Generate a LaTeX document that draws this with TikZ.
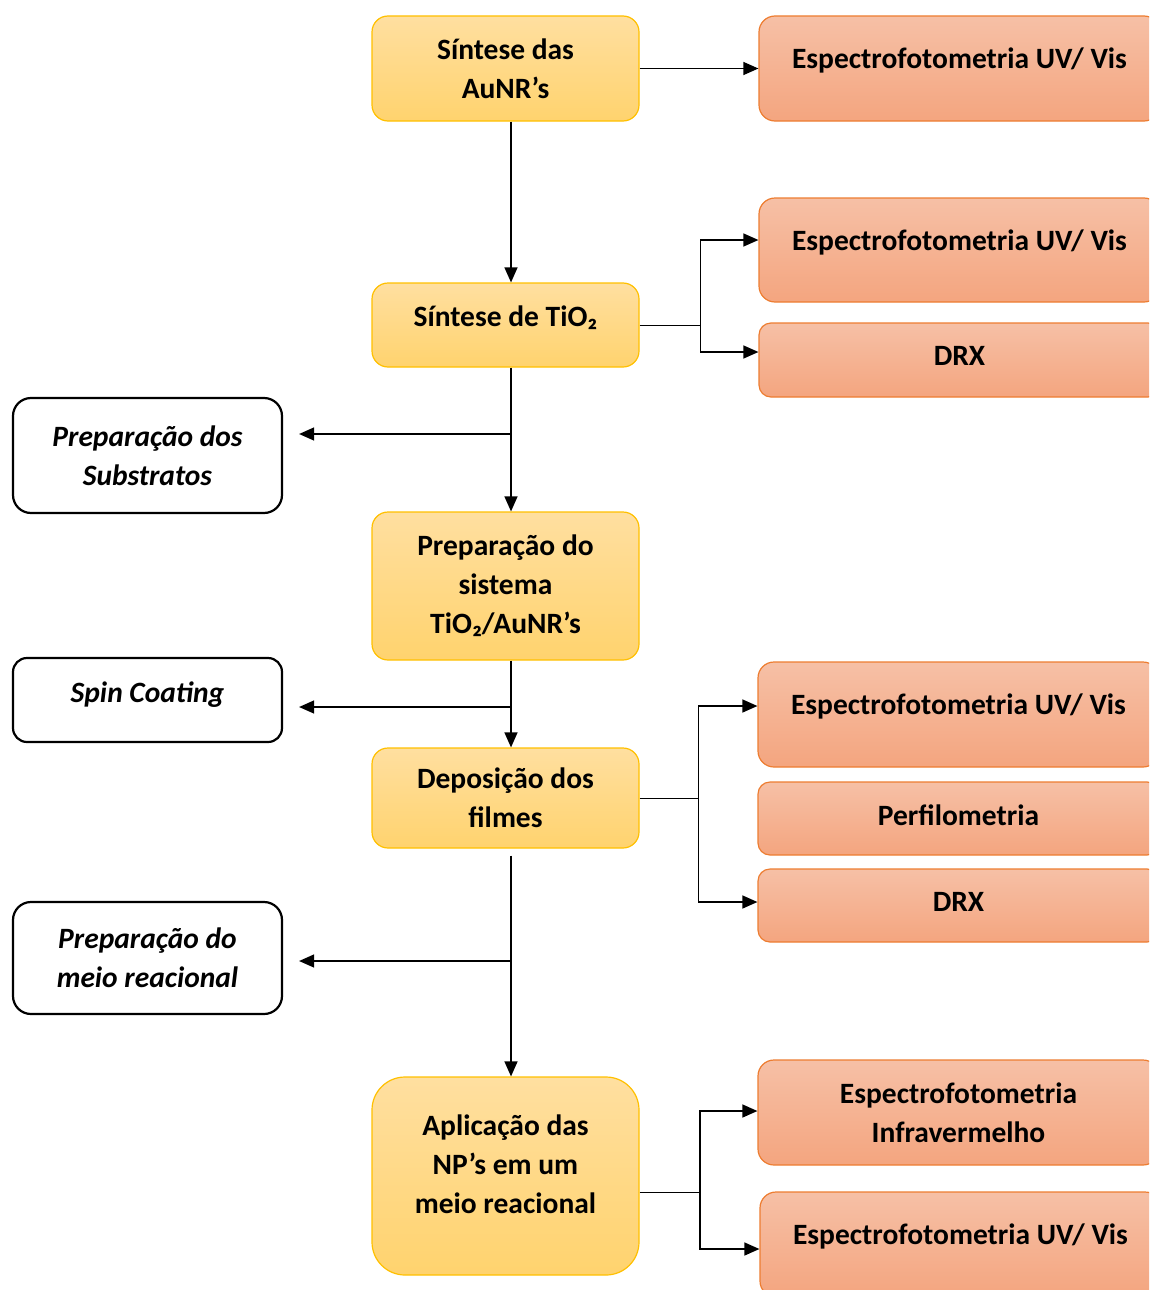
\documentclass[tikz,border=0pt]{standalone}
\usepackage{fontspec}
\setmainfont{Carlito}
\usetikzlibrary{arrows.meta, positioning}
\definecolor{stepborder}{RGB}{255,192,0}
\definecolor{steptop}{RGB}{255,223,160}
\definecolor{stepbottom}{RGB}{255,211,110}
\definecolor{testborder}{RGB}{237,125,49}
\definecolor{testtop}{RGB}{246,192,166}
\definecolor{testbottom}{RGB}{244,165,127}

\begin{document}
\begin{tikzpicture}[
    x=1pt, y=-1pt,
    every node/.style={font=\fontsize{29.5}{39}\selectfont\bfseries, align=center, inner sep=0pt},
    stepbox/.style={draw=stepborder, line width=1.2pt, top color=steptop, bottom color=stepbottom, rounded corners=16pt, minimum width=267pt},
    testbox/.style={draw=testborder, line width=1.2pt, top color=testtop, bottom color=testbottom, rounded corners=16pt, minimum width=401pt},
    prepbox/.style={draw, line width=2.2pt, fill=white, rounded corners=18pt, minimum width=269pt, font=\fontsize{29.5}{39}\selectfont\bfseries\itshape},
    arrow/.style={-{Triangle[length=15pt, width=13pt]}, line width=1.3pt}
]
    \useasboundingbox (0,0) rectangle (1149,1290);
    \clip (0,0) rectangle (1149,1290);
    \coordinate (spine) at (511,0);

    % Main steps
    \node[stepbox, minimum height=105pt] (sintAu) at (505.5,68.5) {Síntese das\\AuNR’s};
    \node[stepbox, minimum height=84pt, text depth=18pt] (sintTi) at (505.5,325) {Síntese de TiO₂};
    \node[stepbox, minimum height=148pt] (sistema) at (505.5,586) {Preparação do\\sistema\\TiO₂/AuNR’s};
    \node[stepbox, minimum height=100pt] (deposicao) at (505.5,798) {Deposição dos\\filmes};
    \node[stepbox, minimum height=198pt, rounded corners=33pt, text depth=23pt] (aplicacao) at (505.5,1176) {Aplicação das\\NP’s em um\\meio reacional};

    % Characterisation
    \node[testbox, minimum height=105pt, text depth=20pt] (uvA) at (959.5,68.5) {Espectrofotometria UV/ Vis};
    \node[testbox, minimum height=104pt, text depth=20pt] (uvB) at (959.5,250) {Espectrofotometria UV/ Vis};
    \node[testbox, minimum height=74pt, rounded corners=12pt, text depth=8pt] (drxA) at (959.5,360) {DRX};
    \node[testbox, minimum height=105pt, text depth=20pt] (uvC) at (958.5,714.5) {Espectrofotometria UV/ Vis};
    \node[testbox, minimum height=73pt, rounded corners=12pt, text depth=7pt] (perfil) at (958.5,818.5) {Perfilometria};
    \node[testbox, minimum height=73pt, rounded corners=12pt, text depth=7pt] (drxB) at (958.5,905.5) {DRX};
    \node[testbox, minimum height=105pt] (infra) at (958.5,1112.5) {Espectrofotometria\\Infravermelho};
    \node[testbox, minimum height=105pt, text depth=20pt] (uvD) at (960.5,1244.5) {Espectrofotometria UV/ Vis};

    % Side preparations
    \node[prepbox, minimum height=115pt] (substratos) at (147.5,455.5) {Preparação dos\\Substratos};
    \node[prepbox, minimum height=84pt, rounded corners=14pt, text depth=16pt] (spin) at (147.5,700) {Spin Coating};
    \node[prepbox, minimum height=112pt] (meio) at (147.5,958) {Preparação do\\meio reacional};

    % Main flow
    \draw[arrow] (sintAu.south -| spine) -- (sintTi.north -| spine);
    \draw[arrow] (sintTi.south -| spine) -- (sistema.north -| spine);
    \draw[arrow] (sistema.south -| spine) -- (deposicao.north -| spine);
    \draw[arrow] ([yshift=-7pt]deposicao.south -| spine) -- (aplicacao.north -| spine);

    % Branches to the left
    \coordinate (tipA) at ([xshift=16pt, yshift=21.5pt]substratos.east);
    \coordinate (tipB) at ([xshift=16pt, yshift=-7pt]spin.east);
    \coordinate (tipC) at ([xshift=16pt, yshift=-3pt]meio.east);
    \draw[arrow] (tipA -| spine) -- (tipA);
    \draw[arrow] (tipB -| spine) -- (tipB);
    \draw[arrow] (tipC -| spine) -- (tipC);

    % Branches to the right
    \draw[arrow] (sintAu.east) -- (uvA.west);
    \draw (sintTi.east) -- ++(61,0) coordinate (forkA);
    \draw[arrow] (forkA) |- ([yshift=10pt]uvB.west);
    \draw[arrow] (forkA) |- ([yshift=8pt]drxA.west);
    \draw (deposicao.east) -- ++(59,0) coordinate (forkB);
    \draw[arrow] (forkB) |- ([yshift=8.5pt]uvC.west);
    \draw[arrow] (forkB) |- ([yshift=3.5pt]drxB.west);
    \draw (aplicacao.east |- 0,1192) -- (700,1192) coordinate (forkC);
    \draw[arrow] (forkC) |- ([yshift=1.5pt]infra.west);
    \draw[arrow] (forkC) |- ([yshift=-4.5pt]uvD.west);
\end{tikzpicture}
\end{document}
